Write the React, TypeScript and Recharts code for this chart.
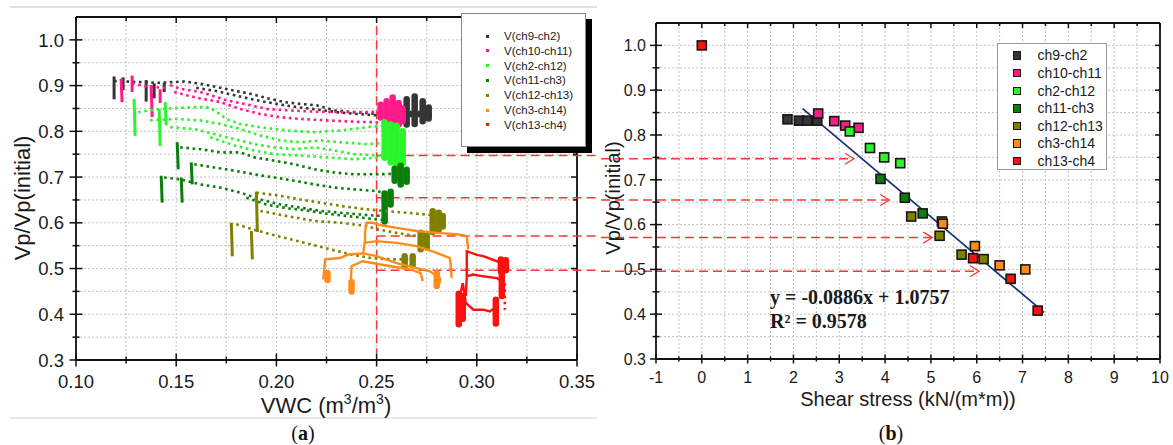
import React from 'react';
import { ScatterChart, Scatter, XAxis, YAxis, CartesianGrid, ReferenceLine } from 'recharts';

type Pt = [number, number];

const seriesNames = ['ch9-ch2', 'ch10-ch11', 'ch2-ch12', 'ch11-ch3', 'ch12-ch13', 'ch3-ch14', 'ch13-ch4'];
const seriesColors = ['#353535', '#ff1a8c', '#2cf52c', '#0b7f0b', '#808000', '#ff8c1a', '#ff1010'];

// ---------- panel (a): VWC vs Vp/Vp(initial), traces ----------
const blackDots: Pt[][] = [
  [[0.119, 0.91], [0.13, 0.908], [0.142, 0.906], [0.154, 0.909], [0.162, 0.904], [0.17, 0.897], [0.178, 0.89], [0.187, 0.882], [0.195, 0.873], [0.204, 0.864], [0.212, 0.86], [0.22, 0.857], [0.229, 0.846], [0.238, 0.842], [0.25, 0.838], [0.258, 0.84]],
  [[0.16, 0.895], [0.17, 0.888], [0.18, 0.878], [0.19, 0.868], [0.2, 0.86], [0.21, 0.853], [0.22, 0.848], [0.23, 0.842], [0.24, 0.838], [0.25, 0.835], [0.258, 0.834]],
];
const blackSolid: Pt[][] = [
  [[0.119, 0.92], [0.119, 0.87]],
  [[0.1235, 0.918], [0.1235, 0.89]],
  [[0.135, 0.912], [0.135, 0.865]],
  [[0.139, 0.905], [0.139, 0.872]],
  [[0.144, 0.906], [0.144, 0.886]],
];
const blackBlob: Pt[][] = [
  [[0.258, 0.838], [0.276, 0.838]],
  [[0.261, 0.858], [0.261, 0.822]],
  [[0.265, 0.87], [0.265, 0.815]],
  [[0.269, 0.876], [0.269, 0.816]],
  [[0.273, 0.866], [0.273, 0.822]],
  [[0.276, 0.852], [0.276, 0.828]],
];

const pinkDots: Pt[][] = [
  [[0.147, 0.901], [0.152, 0.893], [0.162, 0.886], [0.168, 0.878], [0.175, 0.868], [0.184, 0.86], [0.195, 0.849], [0.205, 0.846], [0.219, 0.843], [0.232, 0.842], [0.245, 0.842], [0.254, 0.844]],
  [[0.149, 0.886], [0.155, 0.879], [0.162, 0.872], [0.172, 0.864], [0.182, 0.849], [0.192, 0.838], [0.202, 0.831], [0.212, 0.827], [0.225, 0.824], [0.239, 0.821], [0.248, 0.82], [0.256, 0.818]],
  [[0.128, 0.905], [0.133, 0.9], [0.138, 0.897], [0.145, 0.895]],
];
const pinkSolid: Pt[][] = [
  [[0.1225, 0.915], [0.123, 0.864]],
  [[0.128, 0.922], [0.128, 0.886]],
  [[0.1375, 0.901], [0.138, 0.831]],
  [[0.142, 0.892], [0.142, 0.862]],
];
const pinkBlob: Pt[][] = [
  [[0.252, 0.858], [0.252, 0.83]],
  [[0.255, 0.866], [0.255, 0.815]],
  [[0.258, 0.874], [0.258, 0.808]],
  [[0.261, 0.862], [0.261, 0.815]],
  [[0.263, 0.85], [0.263, 0.822]],
];

const greenDots: Pt[][] = [
  [[0.131, 0.842], [0.14, 0.848], [0.15, 0.851], [0.16, 0.853], [0.165, 0.853], [0.169, 0.846], [0.175, 0.827], [0.182, 0.816], [0.192, 0.809], [0.205, 0.802], [0.219, 0.798], [0.232, 0.802], [0.245, 0.809], [0.255, 0.813]],
  [[0.137, 0.824], [0.15, 0.827], [0.162, 0.824], [0.172, 0.816], [0.182, 0.805], [0.192, 0.791], [0.202, 0.78], [0.212, 0.776], [0.222, 0.78], [0.232, 0.776], [0.245, 0.772], [0.255, 0.775]],
  [[0.147, 0.809], [0.159, 0.805], [0.169, 0.794], [0.179, 0.783], [0.189, 0.772], [0.199, 0.765], [0.209, 0.761], [0.219, 0.765], [0.229, 0.758], [0.239, 0.75], [0.252, 0.747], [0.26, 0.748]],
  [[0.167, 0.787], [0.179, 0.769], [0.189, 0.758], [0.199, 0.75], [0.212, 0.747], [0.225, 0.743], [0.239, 0.739], [0.252, 0.743], [0.26, 0.738]],
];
const greenSolid: Pt[][] = [
  [[0.129, 0.871], [0.1295, 0.79]],
  [[0.1415, 0.849], [0.142, 0.768]],
  [[0.1445, 0.864], [0.145, 0.813]],
];
const greenBlob: Pt[][] = [
  [[0.254, 0.82], [0.254, 0.742]],
  [[0.257, 0.815], [0.257, 0.732]],
  [[0.26, 0.812], [0.26, 0.722]],
  [[0.263, 0.8], [0.263, 0.73]],
];

const dkGreenDots: Pt[][] = [
  [[0.152, 0.765], [0.162, 0.761], [0.172, 0.754], [0.182, 0.754], [0.189, 0.743], [0.199, 0.736], [0.209, 0.728], [0.219, 0.717], [0.229, 0.71], [0.239, 0.706], [0.25, 0.706], [0.258, 0.707]],
  [[0.159, 0.728], [0.169, 0.721], [0.179, 0.714], [0.189, 0.706], [0.199, 0.699], [0.209, 0.692], [0.219, 0.684], [0.229, 0.677], [0.239, 0.673], [0.248, 0.67], [0.256, 0.665]],
  [[0.144, 0.699], [0.152, 0.695], [0.162, 0.684], [0.172, 0.677], [0.182, 0.666], [0.192, 0.651], [0.202, 0.64], [0.212, 0.633], [0.222, 0.626], [0.232, 0.622], [0.242, 0.618], [0.252, 0.615]],
  [[0.185, 0.655], [0.195, 0.64], [0.205, 0.632], [0.215, 0.627], [0.225, 0.62], [0.235, 0.615], [0.245, 0.61], [0.253, 0.606]],
];
const dkGreenSolid: Pt[][] = [
  [[0.1505, 0.776], [0.151, 0.717]],
  [[0.1575, 0.732], [0.158, 0.684]],
  [[0.1425, 0.703], [0.143, 0.644]],
  [[0.1525, 0.699], [0.153, 0.644]],
];
const dkGreenBlob: Pt[][] = [
  [[0.259, 0.718], [0.259, 0.692]],
  [[0.262, 0.725], [0.262, 0.684]],
  [[0.265, 0.716], [0.265, 0.69]],
  [[0.254, 0.664], [0.254, 0.603]],
  [[0.257, 0.668], [0.257, 0.64]],
];

const oliveDots: Pt[][] = [
  [[0.19, 0.666], [0.202, 0.659], [0.212, 0.651], [0.222, 0.644], [0.232, 0.637], [0.242, 0.631], [0.253, 0.626], [0.265, 0.622], [0.275, 0.618], [0.281, 0.615]],
  [[0.192, 0.626], [0.205, 0.615], [0.219, 0.604], [0.232, 0.6], [0.245, 0.593], [0.25, 0.586], [0.26, 0.578], [0.27, 0.571]],
  [[0.18, 0.597], [0.188, 0.586], [0.197, 0.575], [0.207, 0.564], [0.217, 0.553], [0.227, 0.542], [0.237, 0.531], [0.247, 0.523], [0.257, 0.52], [0.267, 0.52]],
];
const oliveSolid: Pt[][] = [
  [[0.19, 0.668], [0.1905, 0.58]],
  [[0.1775, 0.6], [0.178, 0.527]],
  [[0.1875, 0.582], [0.188, 0.52]],
];
const oliveBlob: Pt[][] = [
  [[0.278, 0.625], [0.278, 0.58]],
  [[0.281, 0.622], [0.281, 0.585]],
  [[0.283, 0.615], [0.283, 0.592]],
  [[0.272, 0.578], [0.272, 0.542]],
  [[0.275, 0.575], [0.275, 0.546]],
  [[0.264, 0.527], [0.264, 0.505]],
  [[0.268, 0.527], [0.268, 0.508]],
];

const orangeSolid: Pt[][] = [
  [[0.2234, 0.476], [0.2243, 0.52], [0.2317, 0.523], [0.2359, 0.531], [0.2434, 0.533], [0.25, 0.527], [0.26, 0.512], [0.27, 0.501], [0.2766, 0.494], [0.2816, 0.479], [0.2816, 0.468]],
  [[0.2369, 0.45], [0.2375, 0.505], [0.243, 0.516], [0.248, 0.512], [0.257, 0.505], [0.267, 0.498], [0.272, 0.49], [0.273, 0.472]],
  [[0.2434, 0.535], [0.244, 0.556], [0.25, 0.56], [0.26, 0.556], [0.27, 0.549], [0.28, 0.534], [0.2866, 0.523], [0.2875, 0.479]],
  [[0.2442, 0.556], [0.2442, 0.578], [0.245, 0.6], [0.248, 0.6], [0.253, 0.594], [0.26, 0.589], [0.27, 0.582], [0.28, 0.578], [0.29, 0.575], [0.295, 0.571], [0.2957, 0.542]],
];
const orangeBlob: Pt[][] = [
  [[0.2255, 0.49], [0.2255, 0.475]],
  [[0.28, 0.49], [0.28, 0.462]],
  [[0.2375, 0.47], [0.2375, 0.45]],
];

const redSolid: Pt[][] = [
  [[0.295, 0.483], [0.295, 0.538], [0.3, 0.53], [0.3032, 0.527], [0.31, 0.516], [0.3148, 0.512]],
  [[0.2945, 0.44], [0.295, 0.483], [0.298, 0.487], [0.3032, 0.483], [0.31, 0.479], [0.313, 0.472]],
  [[0.2916, 0.373], [0.2916, 0.44], [0.293, 0.468], [0.2945, 0.425], [0.2983, 0.41], [0.3032, 0.41], [0.3065, 0.406], [0.31, 0.417]],
];
const redBlob: Pt[][] = [
  [[0.291, 0.445], [0.291, 0.378]],
  [[0.293, 0.44], [0.293, 0.39]],
  [[0.3095, 0.432], [0.3095, 0.38]],
  [[0.312, 0.52], [0.312, 0.494]],
  [[0.3145, 0.518], [0.3145, 0.496]],
  [[0.3125, 0.49], [0.3125, 0.44]],
];
const redDots: Pt[][] = [[[0.314, 0.468], [0.314, 0.41]]];

// ---------- panel (b): shear stress vs Vp/Vp(initial) ----------
const stressCh9Ch2: Pt[] = [[1.87, 0.835], [2.12, 0.832], [2.3, 0.832], [2.52, 0.832]];
const stressCh10Ch11: Pt[] = [[2.54, 0.848], [2.89, 0.831], [3.13, 0.821], [3.42, 0.816]];
const stressCh2Ch12: Pt[] = [[3.23, 0.808], [3.67, 0.771], [3.98, 0.75], [4.33, 0.737]];
const stressCh11Ch3: Pt[] = [[3.9, 0.702], [4.43, 0.66], [4.82, 0.625]];
const stressCh12Ch13: Pt[] = [[4.57, 0.618], [5.24, 0.607], [5.19, 0.575], [5.67, 0.533], [6.15, 0.523]];
const stressCh3Ch14: Pt[] = [[5.26, 0.602], [5.96, 0.552], [6.5, 0.509], [7.06, 0.5]];
const stressCh13Ch4: Pt[] = [[0, 1.0], [5.92, 0.525], [6.74, 0.479], [7.33, 0.408]];
const fitLine: Pt[] = [[2.2, 0.859], [7.47, 0.404]];

const vwcMark = 0.25;
const arrowLevels = [0.747, 0.655, 0.571, 0.496];
const arrowTips = [3.32, 4.09, 5.03, 6.05];

const xTicksA = [0.1, 0.125, 0.15, 0.175, 0.2, 0.225, 0.25, 0.275, 0.3, 0.325, 0.35];
const yTicks = [0.3, 0.35, 0.4, 0.45, 0.5, 0.55, 0.6, 0.65, 0.7, 0.75, 0.8, 0.85, 0.9, 0.95, 1.0];
const xTicksB = [-1, -0.5, 0, 0.5, 1, 1.5, 2, 2.5, 3, 3.5, 4, 4.5, 5, 5.5, 6, 6.5, 7, 7.5, 8, 8.5, 9, 9.5, 10];

const seriesA = [
  { dots: blackDots, solid: blackSolid, blob: blackBlob },
  { dots: pinkDots, solid: pinkSolid, blob: pinkBlob },
  { dots: greenDots, solid: greenSolid, blob: greenBlob },
  { dots: dkGreenDots, solid: dkGreenSolid, blob: dkGreenBlob },
  { dots: oliveDots, solid: oliveSolid, blob: oliveBlob },
  { dots: [] as Pt[][], solid: orangeSolid, blob: orangeBlob },
  { dots: redDots, solid: redSolid, blob: redBlob },
];
const seriesB = [stressCh9Ch2, stressCh10Ch11, stressCh2Ch12, stressCh11Ch3, stressCh12Ch13, stressCh3Ch14, stressCh13Ch4];

const toXY = (pts: Pt[]) => pts.map(([x, y]) => ({ x, y }));
const noMarker = () => <g />;
const isMult = (v: number, step: number) => Math.abs(v / step - Math.round(v / step)) < 1e-6;

const PLOT_A_W = 501;
const PLOT_A_H = 343;
const PLOT_B_W = 504;
const PLOT_B_H = 336;
const RED = '#ff3535';

type TickCfg = { step: number; span: number; major: number; minor: number; inMajor: number; inMinor: number; labelOff: number; font: number; fmt: (v: number) => string };

const makeXTick = (c: TickCfg) => (props: any) => {
  const { x, y, payload } = props;
  const v = payload.value;
  const mj = isMult(v, c.step);
  const len = mj ? c.major : c.minor;
  const tl = mj ? c.inMajor : c.inMinor;
  return (
    <g>
      <line x1={x} x2={x} y1={y - len} y2={y + len} stroke="#111" strokeWidth={1.5} />
      <line x1={x} x2={x} y1={y - c.span} y2={y - c.span + tl} stroke="#111" strokeWidth={1.5} />
      {mj && (
        <text x={x} y={y + c.labelOff} textAnchor="middle" fontSize={c.font} fill="#1a1a1a">
          {c.fmt(v)}
        </text>
      )}
    </g>
  );
};

const makeYTick = (c: TickCfg) => (props: any) => {
  const { x, y, payload } = props;
  const v = payload.value;
  const mj = isMult(v, c.step);
  const len = mj ? c.major : c.minor;
  const tl = mj ? c.inMajor : c.inMinor;
  return (
    <g>
      <line x1={x - len} x2={x + len} y1={y} y2={y} stroke="#111" strokeWidth={1.5} />
      <line x1={x + c.span} x2={x + c.span - tl} y1={y} y2={y} stroke="#111" strokeWidth={1.5} />
      {mj && (
        <text x={x - c.labelOff} y={y + c.font * 0.36} textAnchor="end" fontSize={c.font} fill="#1a1a1a">
          {c.fmt(v)}
        </text>
      )}
    </g>
  );
};

const TickXA = makeXTick({ step: 0.05, span: PLOT_A_H, major: 6.5, minor: 3.5, inMajor: 6, inMinor: 4, labelOff: 28, font: 18.5, fmt: (v) => v.toFixed(2) });
const TickYA = makeYTick({ step: 0.1, span: PLOT_A_W, major: 6.5, minor: 3.5, inMajor: 6, inMinor: 4, labelOff: 12, font: 18.5, fmt: (v) => v.toFixed(1) });
const TickXB = makeXTick({ step: 1, span: PLOT_B_H, major: 4.5, minor: 2.5, inMajor: 5, inMinor: 3, labelOff: 23.5, font: 16, fmt: (v) => String(v) });
const TickYB = makeYTick({ step: 0.1, span: PLOT_B_W, major: 6, minor: 3.5, inMajor: 5, inMinor: 3, labelOff: 10, font: 16, fmt: (v) => v.toFixed(1) });

const arrowShape = (p: any) => (
  <g>
    <line x1={p.x1} y1={p.y1} x2={p.x2} y2={p.y2} stroke={RED} strokeWidth={1.5} strokeDasharray="9 5" />
    <polyline points={`${p.x2 - 9},${p.y2 - 5.5} ${p.x2},${p.y2} ${p.x2 - 9},${p.y2 + 5.5}`} fill="none" stroke={RED} strokeWidth={1.3} />
  </g>
);

const axisLineStyle = { stroke: '#111', strokeWidth: 1.8 };

function PanelA() {
  return (
    <ScatterChart width={600} height={445} margin={{ top: 17, right: 23, left: 16, bottom: 55 }}>
      <CartesianGrid stroke="#c2c2c2" strokeDasharray="2 2" />
      <XAxis type="number" dataKey="x" domain={[0.1, 0.35]} ticks={xTicksA} interval={0} allowDataOverflow height={30}
        tickSize={0} tickMargin={0} tickLine={false} axisLine={axisLineStyle} tick={TickXA} />
      <YAxis type="number" dataKey="y" domain={[0.3, 1.05]} ticks={yTicks} interval={0} allowDataOverflow width={60}
        tickSize={0} tickMargin={0} tickLine={false} axisLine={axisLineStyle} tick={TickYA} />
      <ReferenceLine y={1.05} stroke="#111" strokeWidth={1.8} />
      <ReferenceLine x={0.35} stroke="#111" strokeWidth={1.8} />
      {seriesA.map((s, si) => (
        <React.Fragment key={si}>
          {s.dots.map((t, ti) => (
            <Scatter key={`d${ti}`} data={toXY(t)} fill={seriesColors[si]} shape={noMarker} isAnimationActive={false}
              line={{ stroke: seriesColors[si], strokeWidth: 2.6, strokeDasharray: '2.6 3.6' }} />
          ))}
          {s.solid.map((t, ti) => (
            <Scatter key={`s${ti}`} data={toXY(t)} fill={seriesColors[si]} shape={noMarker} isAnimationActive={false}
              line={{ stroke: seriesColors[si], strokeWidth: si >= 5 ? 2.4 : 3 }} />
          ))}
          {s.blob.map((t, ti) => (
            <Scatter key={`b${ti}`} data={toXY(t)} fill={seriesColors[si]} shape={noMarker} isAnimationActive={false}
              line={{ stroke: seriesColors[si], strokeWidth: 6.5, strokeLinecap: 'round' }} />
          ))}
        </React.Fragment>
      ))}
      <ReferenceLine segment={[{ x: vwcMark, y: 1.03 }, { x: vwcMark, y: 0.315 }]} stroke={RED} strokeWidth={1.5} strokeDasharray="9 5" />
      {arrowLevels.map((lv, i) => (
        <ReferenceLine key={i} segment={[{ x: vwcMark, y: lv }, { x: 0.362, y: lv }]} ifOverflow="visible"
          stroke={RED} strokeWidth={1.5} strokeDasharray="9 5" />
      ))}
    </ScatterChart>
  );
}

function PanelB() {
  return (
    <ScatterChart width={613} height={445} margin={{ top: 23, right: 13, left: 36, bottom: 56 }}>
      <CartesianGrid stroke="#c2c2c2" strokeDasharray="2 2" />
      <XAxis type="number" dataKey="x" domain={[-1, 10]} ticks={xTicksB} interval={0} allowDataOverflow height={30}
        tickSize={0} tickMargin={0} tickLine={false} axisLine={axisLineStyle} tick={TickXB} />
      <YAxis type="number" dataKey="y" domain={[0.3, 1.05]} ticks={yTicks} interval={0} allowDataOverflow width={60}
        tickSize={0} tickMargin={0} tickLine={false} axisLine={axisLineStyle} tick={TickYB} />
      <ReferenceLine y={1.05} stroke="#111" strokeWidth={1.8} />
      <ReferenceLine x={10} stroke="#111" strokeWidth={1.8} />
      {arrowLevels.map((lv, i) => (
        <ReferenceLine key={i} segment={[{ x: -2.2, y: lv }, { x: arrowTips[i], y: lv }]} ifOverflow="visible" shape={arrowShape} />
      ))}
      <Scatter data={toXY(fitLine)} fill="#17307a" shape={noMarker} isAnimationActive={false}
        line={{ stroke: '#17307a', strokeWidth: 1.7 }} />
      {seriesB.map((pts, si) => (
        <Scatter key={si} data={toXY(pts)} fill={seriesColors[si]} isAnimationActive={false}
          shape={(p: any) => (
            <rect x={p.cx - 4.5} y={p.cy - 4.5} width={9} height={9} fill={seriesColors[si]} stroke="#151515" strokeWidth={1.6} />
          )} />
      ))}
    </ScatterChart>
  );
}

export default function App() {
  return (
    <div style={{ position: 'absolute', left: 0, top: 0, width: 1173, height: 445, background: '#fff', fontFamily: '"Liberation Sans", Arial, sans-serif', overflow: 'hidden' }}>
      <div style={{ position: 'absolute', left: 10, top: 6, width: 587, height: 1.5, background: '#e2e2e2' }} />
      <div style={{ position: 'absolute', left: 10, top: 417, width: 587, height: 1.5, background: '#e8e8e8' }} />
      <div style={{ position: 'absolute', left: 0, top: 0 }}>
        <PanelA />
      </div>
      <div style={{ position: 'absolute', left: 560, top: 0 }}>
        <PanelB />
      </div>
      <svg width={1173} height={445} style={{ position: 'absolute', left: 0, top: 0, pointerEvents: 'none' }}>
        <text x={326} y={413} textAnchor="middle" fontSize={22} fill="#1a1a1a">
          VWC (m<tspan fontSize={14} dy={-9}>3</tspan><tspan dy={9}>/m</tspan><tspan fontSize={14} dy={-9}>3</tspan><tspan dy={9}>)</tspan>
        </text>
        <text x={22} y={198} transform="rotate(-90 22 198)" textAnchor="middle" dominantBaseline="central" fontSize={22} fill="#1a1a1a">
          Vp/Vp(initial)
        </text>
        <text x={908} y={406} textAnchor="middle" fontSize={20} fill="#1a1a1a">Shear stress (kN/(m*m))</text>
        <text x={613} y={198} transform="rotate(-90 613 198)" textAnchor="middle" dominantBaseline="central" fontSize={20} fill="#1a1a1a">
          Vp/Vp(initial)
        </text>
        <text x={770} y={304} fontSize={20} fontWeight="bold" fontFamily='"Liberation Serif", "Times New Roman", serif' fill="#1a1a1a">
          y = -0.0886x + 1.0757
        </text>
        <text x={770} y={328} fontSize={20} fontWeight="bold" fontFamily='"Liberation Serif", "Times New Roman", serif' fill="#1a1a1a">
          R² = 0.9578
        </text>
        <text x={303} y={440} textAnchor="middle" fontSize={20} fontFamily='"Liberation Serif", "Times New Roman", serif' fill="#111">
          (<tspan fontWeight="bold">a</tspan>)
        </text>
        <text x={891} y={440} textAnchor="middle" fontSize={20} fontFamily='"Liberation Serif", "Times New Roman", serif' fill="#111">
          (<tspan fontWeight="bold">b</tspan>)
        </text>
      </svg>
      <div style={{ position: 'absolute', left: 461, top: 13, width: 123, height: 132, border: '1px solid #888', background: '#fff', boxShadow: '6px 6px 0 #000' }}>
        {seriesNames.map((n, i) => (
          <div key={n} style={{ position: 'absolute', left: 0, top: 22 + 14.8 * i - 8, height: 16, width: 123 }}>
            <div style={{ position: 'absolute', left: 23.5, top: 6.5, width: 3, height: 3, background: seriesColors[i] }} />
            <div style={{ position: 'absolute', left: 42, top: 0, fontSize: 11.5, lineHeight: '16px', color: '#1a1a1a', whiteSpace: 'nowrap' }}>V({n})</div>
          </div>
        ))}
      </div>
      <div style={{ position: 'absolute', left: 997, top: 43, width: 108, height: 125, border: '1px solid #9a9a9a', background: '#fff' }}>
        {seriesNames.map((n, i) => (
          <div key={n} style={{ position: 'absolute', left: 0, top: 11.3 + 17.6 * i - 9, height: 18, width: 108 }}>
            <div style={{ position: 'absolute', left: 14.5, top: 5, width: 6.5, height: 6.5, background: seriesColors[i], border: '1.2px solid #151515' }} />
            <div style={{ position: 'absolute', left: 39.5, top: 0, fontSize: 14, lineHeight: '18px', color: '#1a1a1a', whiteSpace: 'nowrap' }}>{n}</div>
          </div>
        ))}
      </div>
    </div>
  );
}
